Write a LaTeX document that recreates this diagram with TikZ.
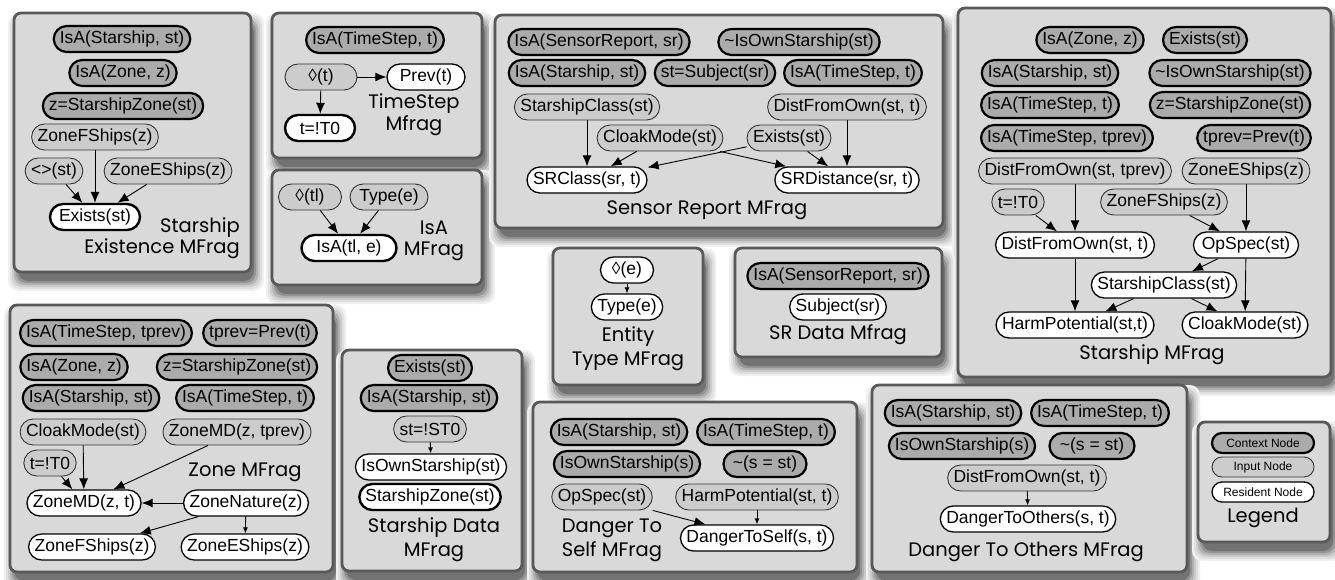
\documentclass[tikz,border=0pt]{standalone}
\usepackage{fontspec}
\setmainfont{Liberation Sans}
\newfontfamily\fragfont{Poppins}
\usetikzlibrary{arrows.meta}

\begin{document}
\begin{tikzpicture}[
  x=1pt, y=-1pt,
  frag/.style={
    draw=black!65, fill=black!15, line width=2.8pt, rounded corners=7pt
  },
  mnode/.style={
    rectangle, rounded corners=13pt, minimum height=26pt,
    inner xsep=6pt, inner ysep=1pt, font=\fontsize{17.5}{20}\selectfont
  },
  ctx/.style={mnode, draw=black, line width=2.2pt, fill=black!33},
  inp/.style={mnode, draw=black!80, line width=0.9pt, fill=black!20},
  res/.style={mnode, draw=black, line width=1.3pt, fill=white},
  resb/.style={res, line width=2.4pt},
  leg/.style={minimum width=102pt, minimum height=20pt, rounded corners=10pt,
    font=\fontsize{12}{14}\selectfont},
  ttl/.style={font=\fragfont\fontsize{19.5}{24}\selectfont, align=center, inner sep=0pt},
  arr/.style={-{Latex[length=11pt, width=9pt]}, line width=0.9pt},
  sarr/.style={-{Latex[length=6pt, width=5pt]}, line width=0.9pt},
]
\useasboundingbox (0,0) rectangle (1335,580);

%% ── MFrag frames (soft shadow first, then the frames) ────────────────────────
\foreach \xa/\ya/\xb/\yb in {14/13/251/272, 272/13/482/158, 272/170/482/285, 495/15/943/228, 958/8/1331/377, 553/248/703/385, 735/248/942/357, 10/305/333/572, 342/350/522/571, 533/402/857/572, 872/385/1187/572, 1198/422/1330/542}{
  \foreach \r/\shade in {10/6, 8/12, 6/20, 4/30, 2/42, 0/55}{
    \fill[black!\shade, rounded corners=10pt]
      (\xa+4-\r, \ya+10-\r) rectangle (\xb+3+\r, \yb+9+\r);
  }
}

\foreach \xa/\ya/\xb/\yb in {14/13/251/272, 272/13/482/158, 272/170/482/285, 495/15/943/228, 958/8/1331/377, 553/248/703/385, 735/248/942/357, 10/305/333/572, 342/350/522/571, 533/402/857/572, 872/385/1187/572, 1198/422/1330/542}{
  \draw[frag] (\xa,\ya) rectangle (\xb,\yb);
}

%% ── Starship Existence MFrag ─────────────────────────────────────────────────
\node[ctx] (exIsaShip) at (122,39)  {IsA(Starship, st)};
\node[ctx] (exIsaZone) at (123,73)  {IsA(Zone, z)};
\node[ctx] (exZone)    at (123,106) {z=StarshipZone(st)};
\node[inp] (exFShips)  at (95,137)  {ZoneFShips(z)};
\node[inp] (exNot)     at (54,171)  {<>(st)};
\node[inp] (exEShips)  at (168,171) {ZoneEShips(z)};
\node[resb, minimum width=90pt] (exExists) at (95,217) {Exists(st)};
\node[ttl, anchor=east, align=right] (exTitle) at (240,238) {Starship\\[-3pt]Existence MFrag};

\draw[arr] (exFShips) -- (exExists);
\draw[arr] (exNot)    -- (exExists);
\draw[arr] (exEShips) -- (exExists);

%% ── TimeStep Mfrag ───────────────────────────────────────────────────────────
\node[ctx] (tsIsa) at (375,40) {IsA(TimeStep, t)};
\node[inp, minimum width=72pt] (tsDia) at (321,77) {◊(t)};
\node[res, minimum width=78pt] (tsPrev) at (426,77) {Prev(t)};
\node[resb, minimum width=70pt] (tsT0) at (320,128) {t=!T0};
\node[ttl] (tsTitle) at (414,115) {TimeStep\\[-2pt]Mfrag};

\draw[arr] (tsDia) -- (tsPrev);
\draw[arr] (tsDia) -- (tsT0);

%% ── IsA MFrag ────────────────────────────────────────────────────────────────
\node[inp, minimum width=63pt] (isaDia)  at (310,197) {◊(tl)};
\node[inp, minimum width=78pt] (isaType) at (389,197) {Type(e)};
\node[resb, minimum width=95pt] (isaRes) at (349,248) {IsA(tl, e)};
\node[ttl] (isaTitle) at (434,241) {IsA\\[-3pt]MFrag};

\draw[arr] (isaDia)  -- (isaRes);
\draw[arr] (isaType) -- (isaRes);

%% ── Sensor Report MFrag ──────────────────────────────────────────────────────
\node[ctx] (srIsaRep)  at (599,42)  {IsA(SensorReport, sr)};
\node[ctx] (srNotOwn)  at (799,42)  {\textasciitilde IsOwnStarship(st)};
\node[ctx] (srIsaShip) at (577,73)  {IsA(Starship, st)};
\node[ctx] (srSubj)    at (715,73)  {st=Subject(sr)};
\node[ctx] (srIsaTime) at (853,73)  {IsA(TimeStep, t)};
\node[inp] (srClass)   at (587,107) {StarshipClass(st)};
\node[inp] (srDist)    at (847,107) {DistFromOwn(st, t)};
\node[inp] (srCloak)   at (660,138) {CloakMode(st)};
\node[inp] (srExists)  at (789,138) {Exists(st)};
\node[res] (srSRClass) at (587,180) {SRClass(sr, t)};
\node[res] (srSRDist)  at (847,180) {SRDistance(sr, t)};
\node[ttl] (srTitle)   at (707,210) {Sensor Report MFrag};

\draw[arr] (srClass)  -- (srSRClass);
\draw[arr] (srCloak)  -- (srSRClass);
\draw[arr] (srExists) -- (srSRClass);
\draw[arr] (srCloak)  -- (srSRDist);
\draw[arr] (srExists) -- (srSRDist);
\draw[arr] (srDist)   -- (srSRDist);

%% ── Starship MFrag ───────────────────────────────────────────────────────────
\node[ctx] (sfIsaZone) at (1090,40)  {IsA(Zone, z)};
\node[ctx] (sfExists)  at (1205,40)  {Exists(st)};
\node[ctx] (sfIsaShip) at (1050,73)  {IsA(Starship, st)};
\node[ctx] (sfNotOwn)  at (1230,73)  {\textasciitilde IsOwnStarship(st)};
\node[ctx] (sfIsaTime) at (1050,105) {IsA(TimeStep, t)};
\node[ctx] (sfZone)    at (1230,105) {z=StarshipZone(st)};
\node[ctx] (sfIsaPrev) at (1067,138) {IsA(TimeStep, tprev)};
\node[ctx] (sfPrev)    at (1254,138) {tprev=Prev(t)};
\node[inp] (sfDistPrev) at (1075,171) {DistFromOwn(st, tprev)};
\node[inp] (sfEShips)  at (1246,171) {ZoneEShips(z)};
\node[inp] (sfT0)      at (1018,202) {t=!T0};
\node[inp] (sfFShips)  at (1164,202) {ZoneFShips(z)};
\node[res] (sfDist)    at (1075,245) {DistFromOwn(st, t)};
\node[res, minimum width=105pt] (sfOp) at (1246,245) {OpSpec(st)};
\node[res] (sfClass)   at (1164,285) {StarshipClass(st)};
\node[res] (sfHarm)    at (1075,325) {HarmPotential(st,t)};
\node[res] (sfCloak)   at (1245,325) {CloakMode(st)};
\node[ttl] (sfTitle)   at (1152,355) {Starship MFrag};

\draw[arr] (sfDistPrev) -- (sfDist);
\draw[arr] (sfT0)     -- (sfDist);
\draw[arr] (sfFShips) -- (sfOp);
\draw[arr] (sfEShips) -- (sfOp);
\draw[arr] (sfOp)     -- (sfClass);
\draw[arr] (sfDist)   -- (sfHarm);
\draw[arr] (sfClass)  -- (sfHarm);
\draw[arr] (sfClass)  -- (sfCloak);
\draw[arr] (sfOp)     -- (sfCloak);

%% ── Entity Type MFrag ────────────────────────────────────────────────────────
\node[res, minimum width=53pt] (etDia) at (627,270) {◊(e)};
\node[res] (etType) at (627,307) {Type(e)};
\node[ttl] (etTitle) at (628,349) {Entity\\Type MFrag};

\draw[sarr] (etDia) -- (etType);

%% ── SR Data Mfrag ────────────────────────────────────────────────────────────
\node[ctx] (sdrIsa)  at (838,276) {IsA(SensorReport, sr)};
\node[res] (sdrSubj) at (838,307) {Subject(sr)};
\node[ttl] (sdrTitle) at (838,335) {SR Data Mfrag};

%% ── Zone MFrag ───────────────────────────────────────────────────────────────
\node[ctx] (znIsaPrev) at (106,333) {IsA(TimeStep, tprev)};
\node[ctx] (znPrev)    at (260,333) {tprev=Prev(t)};
\node[ctx] (znIsaZone) at (74,367)  {IsA(Zone, z)};
\node[ctx] (znZone)    at (237,367) {z=StarshipZone(st)};
\node[ctx] (znIsaShip) at (91,398)  {IsA(Starship, st)};
\node[ctx] (znIsaTime) at (245,398) {IsA(TimeStep, t)};
\node[inp] (znCloak)   at (83,432)  {CloakMode(st)};
\node[inp] (znMDPrev)  at (237,432) {ZoneMD(z, tprev)};
\node[inp] (znT0)      at (50,463)  {t=!T0};
\node[res] (znMD)      at (84,503)  {ZoneMD(z, t)};
\node[res] (znNature)  at (246,503) {ZoneNature(z)};
\node[res] (znFShips)  at (92,547)  {ZoneFShips(z)};
\node[res] (znEShips)  at (245,547) {ZoneEShips(z)};
\node[ttl] (znTitle)   at (245,472) {Zone MFrag};

\draw[arr] (znCloak)  -- (znMD);
\draw[arr] (znT0)     -- (znMD);
\draw[arr] (znMDPrev) -- (znMD);
\draw[arr] (znNature) -- (znMD);
\draw[arr] (znNature) -- (znFShips);
\draw[sarr] (znNature) -- (znEShips);

%% ── Starship Data MFrag ──────────────────────────────────────────────────────
\node[ctx] (sdExists)  at (430,368) {Exists(st)};
\node[ctx] (sdIsaShip) at (429,398) {IsA(Starship, st)};
\node[inp] (sdST0)     at (430,429) {st=!ST0};
\node[res] (sdOwn)     at (431,467) {IsOwnStarship(st)};
\node[resb] (sdZone)   at (430,497) {StarshipZone(st)};
\node[ttl] (sdTitle)   at (434,540) {Starship Data\\MFrag};

\draw[sarr] (sdST0) -- (sdOwn);

%% ── Danger To Self MFrag ─────────────────────────────────────────────────────
\node[ctx] (dsIsaShip) at (619,432) {IsA(Starship, st)};
\node[ctx] (dsIsaTime) at (766,432) {IsA(TimeStep, t)};
\node[ctx] (dsOwn)     at (627,464) {IsOwnStarship(s)};
\node[ctx, minimum width=83pt] (dsDiff) at (765,464) {\textasciitilde(s = st)};
\node[inp] (dsOp)      at (602,497) {OpSpec(st)};
\node[inp] (dsHarm)    at (757,497) {HarmPotential(st, t)};
\node[res] (dsDanger)  at (757,538) {DangerToSelf(s, t)};
\node[ttl] (dsTitle)   at (612,540) {Danger To\\Self MFrag};

\draw[arr] (dsOp) -- (dsDanger);
\draw[sarr] (dsHarm) -- (dsDanger);

%% ── Danger To Others MFrag ───────────────────────────────────────────────────
\node[ctx] (doIsaShip) at (953,413)  {IsA(Starship, st)};
\node[ctx] (doIsaTime) at (1100,413) {IsA(TimeStep, t)};
\node[ctx] (doOwn)     at (962,446)  {IsOwnStarship(s)};
\node[ctx, minimum width=85pt] (doDiff) at (1092,446) {\textasciitilde(s = st)};
\node[inp] (doDist)    at (1027,478) {DistFromOwn(st, t)};
\node[res] (doDanger)  at (1028,519) {DangerToOthers(s, t)};
\node[ttl] (doTitle)   at (1026,552) {Danger To Others MFrag};

\draw[sarr] (doDist) -- (doDanger);

%% ── Legend ───────────────────────────────────────────────────────────────────
\node[ctx, leg] (lgCtx) at (1263,443) {Context Node};
\node[inp, leg] (lgInp) at (1263,467) {Input Node};
\node[res, leg] (lgRes) at (1263,492) {Resident Node};
\node[ttl] (lgTitle) at (1263,518) {Legend};

\end{tikzpicture}
\end{document}
